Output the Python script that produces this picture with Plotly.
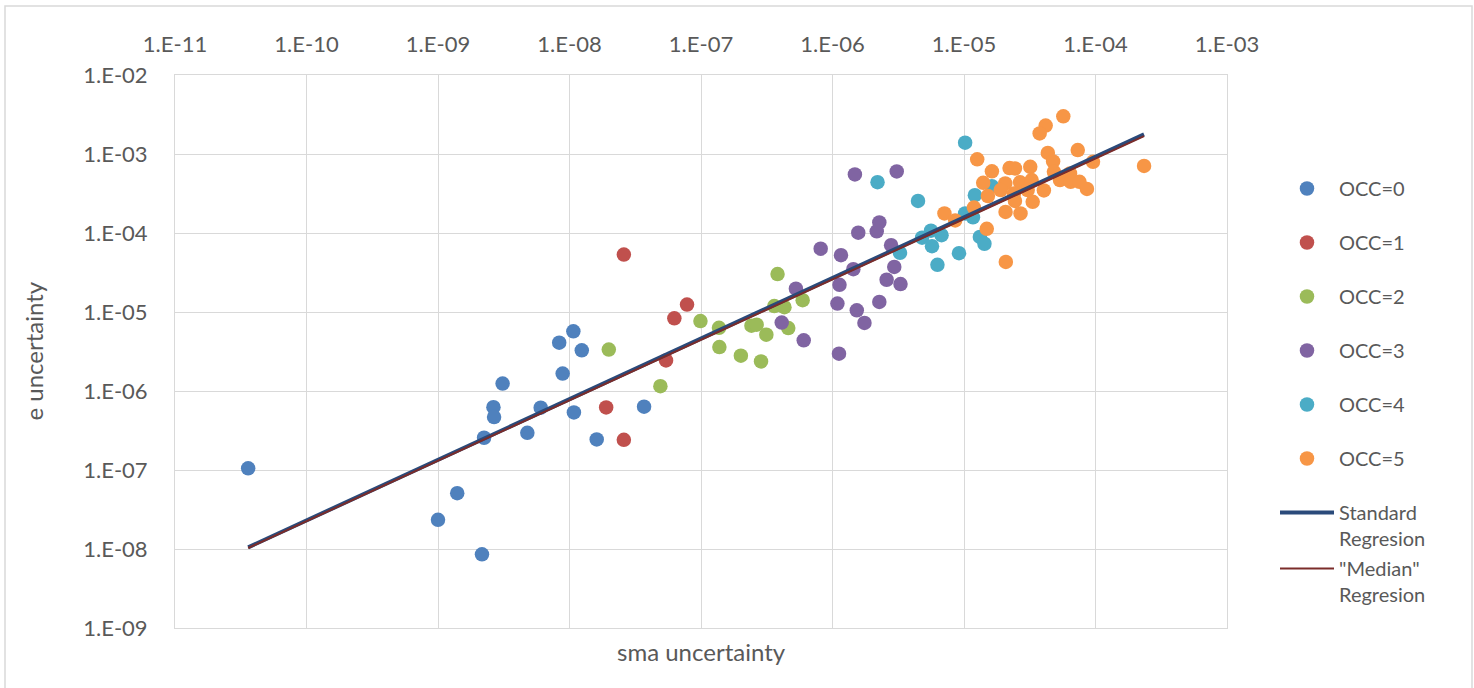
import plotly.graph_objects as go

# ---- data: sma uncertainty (x) vs e uncertainty (y), grouped by OCC ----
occ0_sma = [3.6e-11, 1.0e-9, 1.40e-9, 2.16e-9, 2.24e-9, 2.64e-9, 2.67e-9, 3.1e-9, 4.78e-9,
            6.04e-9, 8.35e-9, 8.87e-9, 1.07e-8, 1.08e-8, 1.24e-8, 1.61e-8, 3.69e-8]
occ0_e = [1.05e-7, 2.34e-8, 5.08e-8, 8.57e-9, 2.56e-7, 6.25e-7, 4.67e-7, 1.24e-6, 2.96e-7,
          6.14e-7, 4.09e-6, 1.66e-6, 5.69e-6, 5.36e-7, 3.27e-6, 2.44e-7, 6.32e-7]

occ1_sma = [2.59e-8, 7.83e-8, 6.27e-8, 5.42e-8, 1.90e-8, 2.59e-8]
occ1_e = [5.34e-5, 1.24e-5, 8.32e-6, 2.44e-6, 6.19e-7, 2.41e-7]

occ2_sma = [1.99e-8, 4.91e-8, 9.9e-8, 1.37e-7, 1.38e-7, 2.01e-7, 2.86e-7, 2.42e-7, 2.65e-7,
            3.14e-7, 3.82e-7, 3.61e-7, 4.31e-7, 4.61e-7, 5.93e-7]
occ2_e = [3.34e-6, 1.15e-6, 7.69e-6, 6.31e-6, 3.60e-6, 2.80e-6, 2.37e-6, 6.72e-6, 6.92e-6,
          5.17e-6, 3.02e-5, 1.19e-5, 1.15e-5, 6.27e-6, 1.41e-5]

occ3_sma = [1.48e-6, 3.08e-6, 1.57e-6, 2.27e-6, 2.17e-6, 8.13e-7, 1.16e-6, 2.79e-6, 1.44e-6,
            2.95e-6, 2.58e-6, 3.29e-6, 1.13e-6, 5.27e-7, 1.09e-6, 2.27e-6, 1.53e-6, 1.75e-6,
            4.11e-7, 6.04e-7, 1.12e-6]
occ3_e = [5.51e-4, 6.02e-4, 1.01e-4, 1.36e-4, 1.05e-4, 6.32e-5, 5.23e-5, 7.00e-5, 3.48e-5,
          3.72e-5, 2.56e-5, 2.26e-5, 2.21e-5, 1.97e-5, 1.28e-5, 1.34e-5, 1.05e-5, 7.26e-6,
          7.35e-6, 4.38e-6, 2.97e-6]

occ4_sma = [1.02e-5, 2.20e-6, 4.47e-6, 1.21e-5, 1.63e-5, 1.02e-5, 1.17e-5, 6.75e-6, 5.61e-6,
            4.80e-6, 5.71e-6, 3.26e-6, 6.28e-6, 9.16e-6, 1.32e-5, 1.43e-5]
occ4_e = [1.39e-3, 4.40e-4, 2.55e-4, 3.01e-4, 3.92e-4, 1.77e-4, 1.58e-4, 9.38e-5, 1.07e-4,
          8.71e-5, 6.81e-5, 5.62e-5, 3.96e-5, 5.55e-5, 8.93e-5, 7.31e-5]

occ5_sma = [5.69e-5, 4.18e-5, 3.76e-5, 7.33e-5, 1.26e-5, 1.63e-5, 4.34e-5, 4.76e-5, 2.22e-5,
            2.44e-5, 3.19e-5, 9.57e-5, 2.34e-4, 1.40e-5, 2.06e-5, 2.67e-5, 3.27e-5, 4.83e-5,
            5.37e-5, 6.40e-5, 6.47e-5, 7.55e-5, 8.61e-5, 1.52e-5, 1.90e-5, 2.40e-5, 3.05e-5,
            4.05e-5, 2.44e-5, 3.33e-5, 2.07e-5, 2.69e-5, 1.19e-5, 7.10e-6, 8.57e-6, 1.49e-5,
            2.08e-5]
occ5_e = [3.00e-3, 2.29e-3, 1.82e-3, 1.12e-3, 8.57e-4, 6.04e-4, 1.03e-3, 8.06e-4, 6.63e-4,
          6.56e-4, 6.89e-4, 7.96e-4, 7.07e-4, 4.32e-4, 4.24e-4, 4.38e-4, 4.67e-4, 5.95e-4,
          4.67e-4, 5.68e-4, 4.44e-4, 4.44e-4, 3.61e-4, 2.94e-4, 3.49e-4, 3.17e-4, 3.49e-4,
          3.46e-4, 2.55e-4, 2.48e-4, 1.85e-4, 1.77e-4, 2.10e-4, 1.77e-4, 1.44e-4, 1.13e-4,
          4.30e-5]

# regression lines (power laws -> straight on log-log), evaluated at data extremes
fit_sma = [3.6e-11, 2.34e-4]
standard_fit_e = [1.05e-8, 1.77e-3]
median_fit_e = [1.03e-8, 1.68e-3]

x_ticks = [1e-11, 1e-10, 1e-9, 1e-8, 1e-7, 1e-6, 1e-5, 1e-4, 1e-3]
x_ticktext = ["1.E-11", "1.E-10", "1.E-09", "1.E-08", "1.E-07", "1.E-06", "1.E-05", "1.E-04", "1.E-03"]
y_ticks = [1e-9, 1e-8, 1e-7, 1e-6, 1e-5, 1e-4, 1e-3, 1e-2]
y_ticktext = ["1.E-09", "1.E-08", "1.E-07", "1.E-06", "1.E-05", "1.E-04", "1.E-03", "1.E-02"]

groups = [
    ("OCC=0", occ0_sma, occ0_e, "#4F81BD"),
    ("OCC=1", occ1_sma, occ1_e, "#C0504D"),
    ("OCC=2", occ2_sma, occ2_e, "#9BBB59"),
    ("OCC=3", occ3_sma, occ3_e, "#8064A2"),
    ("OCC=4", occ4_sma, occ4_e, "#4BACC6"),
    ("OCC=5", occ5_sma, occ5_e, "#F79646"),
]

FONT = "Lato"
TXT = "#595959"
GRID = "#d9d9d9"

fig = go.Figure()
for i, (name, xs, ys, col) in enumerate(groups):
    fig.add_trace(go.Scatter(
        x=xs, y=ys, mode="markers", name=name, legendgroup=f"g{i}",
        marker=dict(color=col, size=14.5, line=dict(width=0)),
    ))

fig.add_trace(go.Scatter(
    x=fit_sma, y=standard_fit_e, mode="lines", name="Standard<br>Regresion",
    line=dict(color="#2A4A7A", width=4), legend="legend2",
))
fig.add_trace(go.Scatter(
    x=fit_sma, y=median_fit_e, mode="lines", name="\"Median\"<br>Regresion",
    line=dict(color="#7B2C2A", width=2), legend="legend3",
))

W, H = 1474, 688
L, R, T, B = 175, 247, 75, 60
pw, ph = W - L - R, H - T - B


def px_x(px):
    return (px - L) / pw


def px_y(py):
    return (H - B - py) / ph


legend_common = dict(
    font=dict(family=FONT, size=20, color=TXT),
    bgcolor="rgba(0,0,0,0)", borderwidth=0,
    itemwidth=54, xanchor="left", yanchor="top",
)

fig.update_layout(
    width=W, height=H,
    margin=dict(l=L, r=R, t=T, b=B),
    paper_bgcolor="white", plot_bgcolor="white",
    font=dict(family=FONT, color=TXT),
    showlegend=True,
    legend=dict(x=px_x(1275), y=px_y(169), tracegroupgap=25, **legend_common),
    legend2=dict(x=px_x(1275), y=px_y(493), valign="top", **legend_common),
    legend3=dict(x=px_x(1275), y=px_y(549), valign="top", **legend_common),
    xaxis=dict(
        type="log", range=[-11, -3], side="top",
        tickvals=x_ticks, ticktext=x_ticktext,
        tickfont=dict(family=FONT, size=22, color=TXT),
        showgrid=True, gridcolor=GRID, gridwidth=1,
        showline=True, linecolor=GRID, linewidth=1, mirror=True,
        zeroline=False, ticks="", ticklabelstandoff=13,
    ),
    yaxis=dict(
        type="log", range=[-9, -2],
        tickvals=y_ticks, ticktext=y_ticktext,
        tickfont=dict(family=FONT, size=22, color=TXT),
        showgrid=True, gridcolor=GRID, gridwidth=1,
        showline=True, linecolor=GRID, linewidth=1, mirror=True,
        zeroline=False, ticks="", ticklabelstandoff=22,
    ),
    annotations=[
        dict(text="e uncertainty", x=px_x(33), y=0.5, xref="paper", yref="paper",
             textangle=-90, showarrow=False, xanchor="center", yanchor="middle",
             font=dict(family=FONT, size=24, color=TXT)),
        dict(text="sma uncertainty", x=0.5, y=px_y(651), xref="paper", yref="paper",
             showarrow=False, xanchor="center", yanchor="middle",
             font=dict(family=FONT, size=24, color=TXT)),
    ],
    shapes=[
        dict(type="rect", xref="paper", yref="paper",
             x0=px_x(5), x1=px_x(1472), y0=px_y(695), y1=px_y(6),
             line=dict(color=GRID, width=1.5), fillcolor="rgba(0,0,0,0)", layer="below"),
    ],
)

fig.write_html("out.html")
